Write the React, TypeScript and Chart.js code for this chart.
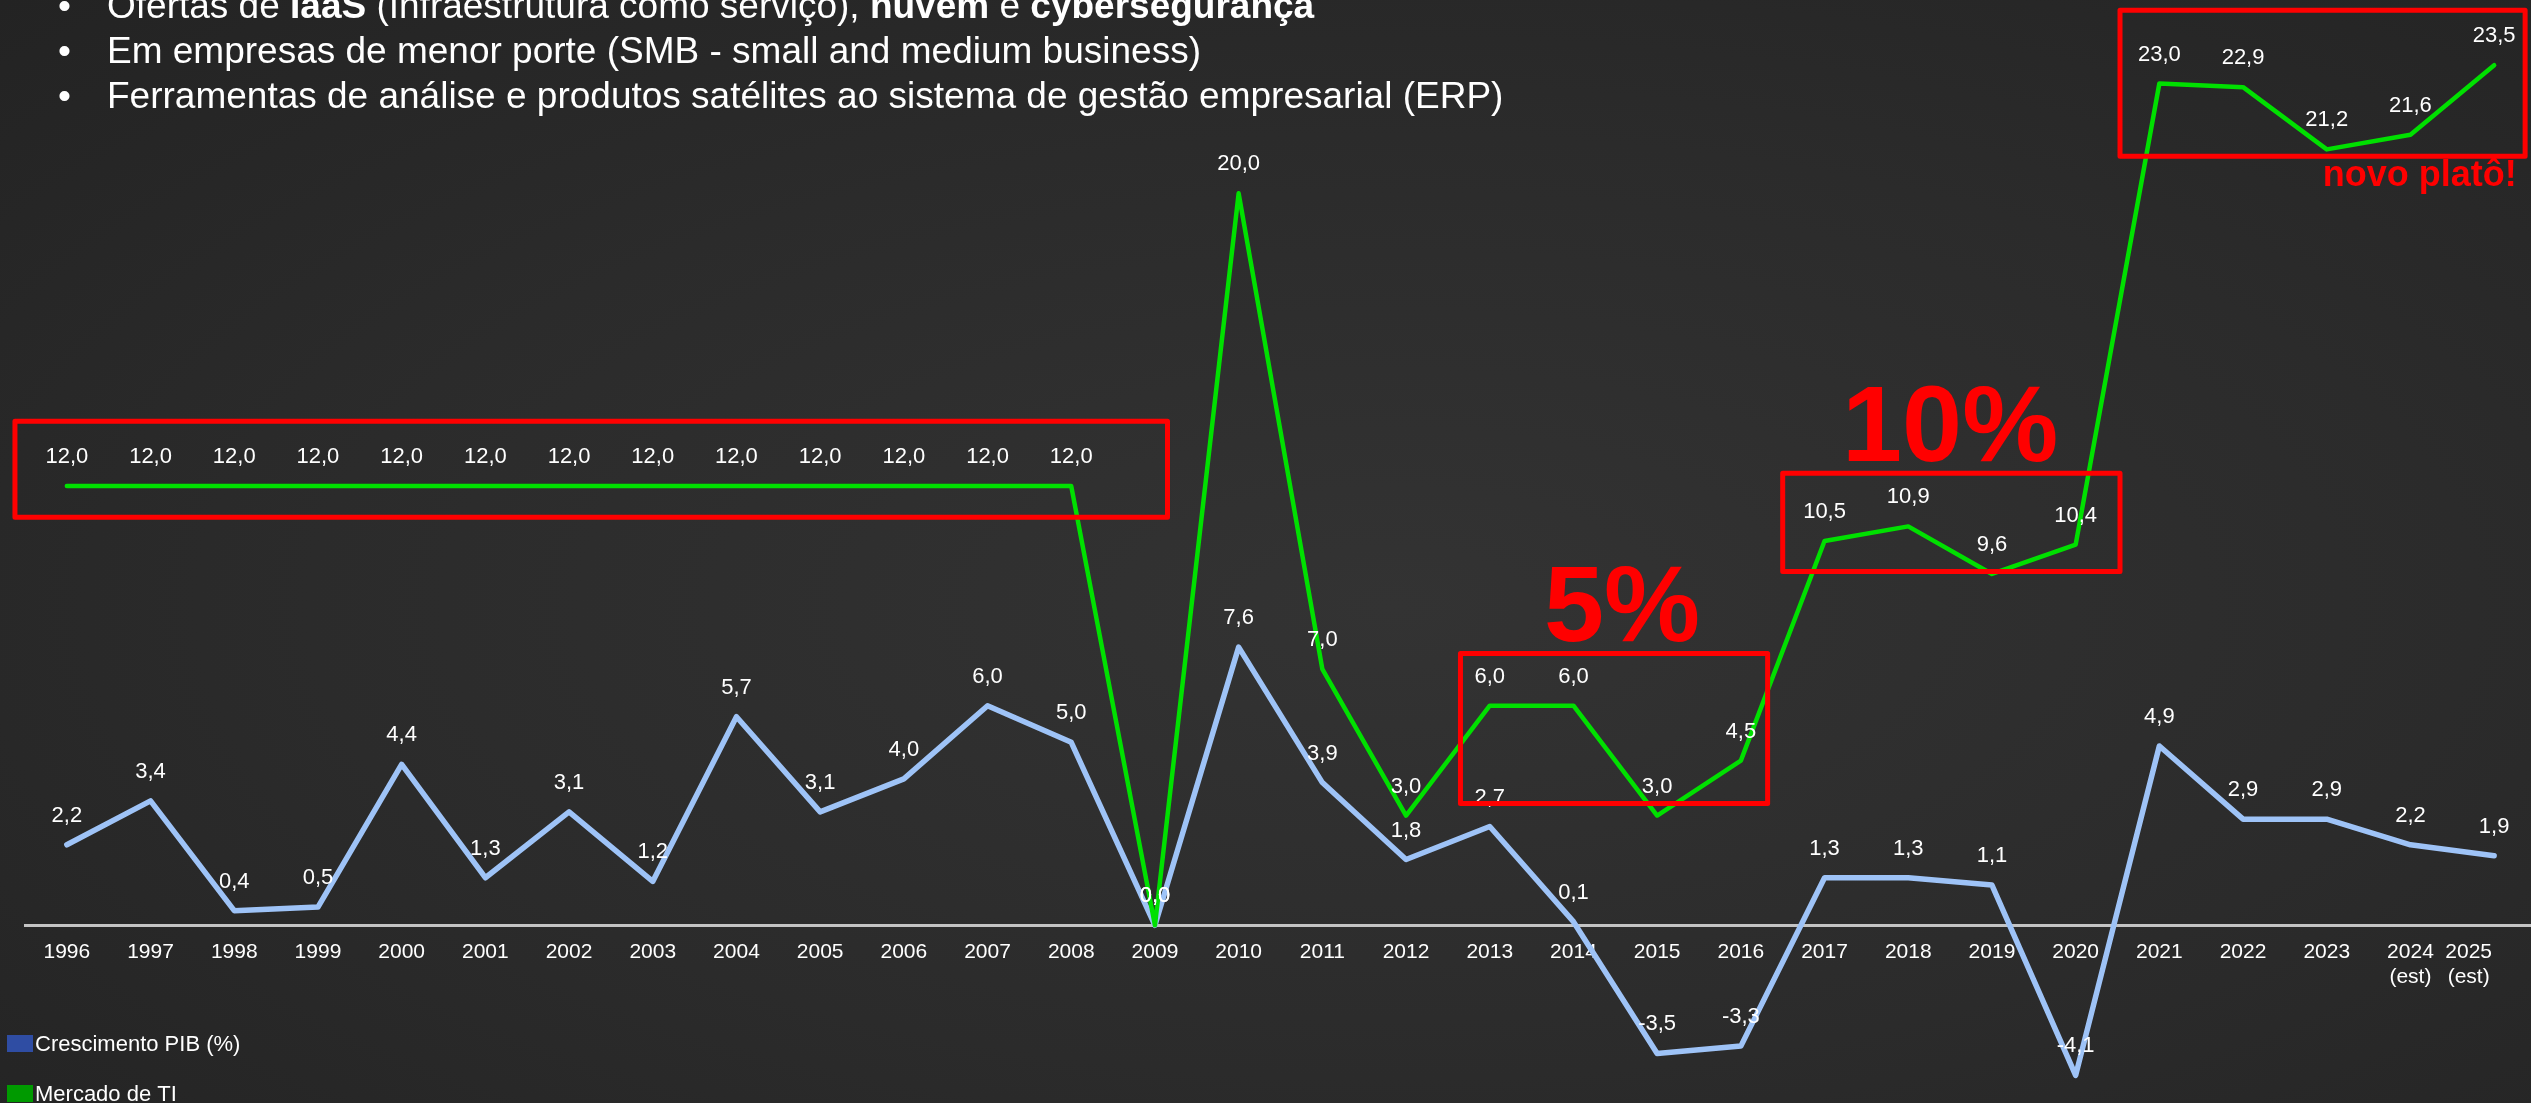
import React, { useEffect, useRef } from 'react';
import { Chart, registerables } from 'chart.js';

Chart.register(...registerables);

const FONT = '"Liberation Sans", Arial, Helvetica, sans-serif';

const YEARS: (string | string[])[] = [
  '1996', '1997', '1998', '1999', '2000', '2001', '2002', '2003', '2004', '2005',
  '2006', '2007', '2008', '2009', '2010', '2011', '2012', '2013', '2014', '2015',
  '2016', '2017', '2018', '2019', '2020', '2021', '2022', '2023',
  ['2024', '(est)'], ['2025', '(est)'],
];

const GDP_GROWTH = [
  2.2, 3.4, 0.4, 0.5, 4.4, 1.3, 3.1, 1.2, 5.7, 3.1,
  4.0, 6.0, 5.0, 0.0, 7.6, 3.9, 1.8, 2.7, 0.1, -3.5,
  -3.3, 1.3, 1.3, 1.1, -4.1, 4.9, 2.9, 2.9, 2.2, 1.9,
];

const IT_MARKET = [
  12.0, 12.0, 12.0, 12.0, 12.0, 12.0, 12.0, 12.0, 12.0, 12.0,
  12.0, 12.0, 12.0, 0.0, 20.0, 7.0, 3.0, 6.0, 6.0, 3.0,
  4.5, 10.5, 10.9, 9.6, 10.4, 23.0, 22.9, 21.2, 21.6, 23.5,
];

const SERIES_NAMES = ['Crescimento PIB (%)', 'Mercado de TI'];
const LINE_COLORS = ['#9ec3f7', '#00e000'];
const LEGEND_COLORS = ['#2f4da3', '#009a00'];

// highlight boxes in data space (category index / value)
const HIGHLIGHT_BOXES = [
  { x0: -0.62, x1: 13.15, y0: 11.15, y1: 13.77 },
  { x0: 16.65, x1: 20.32, y0: 3.33, y1: 7.43 },
  { x0: 20.5, x1: 24.53, y0: 9.67, y1: 12.35 },
  { x0: 24.53, x1: 29.37, y0: 21.01, y1: 25.0 },
];

const CALLOUTS = [
  { text: '5%', x: 18.58, y: 7.76, size: 108 },
  { text: '10%', x: 22.5, y: 12.7, size: 108 },
  { text: 'novo platô!', x: 28.11, y: 20.2, size: 36 },
];

const BULLETS: { t: string; b?: boolean }[][] = [
  [
    { t: 'Ofertas de ' }, { t: 'IaaS', b: true }, { t: ' (Infraestrutura como serviço), ' },
    { t: 'nuvem', b: true }, { t: ' e ' }, { t: 'cybersegurança', b: true },
  ],
  [{ t: 'Em empresas de menor porte (SMB - small and medium business)' }],
  [{ t: 'Ferramentas de análise e produtos satélites ao sistema de gestão empresarial (ERP)' }],
];

const LABEL_RIGHT_LIMIT = 2492;

const fmt = (v: number) => v.toFixed(1).replace('.', ',');

const overlayPlugin = {
  id: 'overlayPlugin',
  beforeDraw(chart: any) {
    // keep the last axis label inside the visible area (like the original)
    try {
      const xs = chart.scales.x;
      const items = xs.getLabelItems(chart.chartArea);
      const last = items[items.length - 1];
      if (last && last.options && last.options.translation) {
        const ctx = chart.ctx as CanvasRenderingContext2D;
        ctx.save();
        ctx.font = last.font.string;
        const lines = Array.isArray(last.label) ? last.label : [last.label];
        const w = Math.max(...lines.map((l: string) => ctx.measureText(l).width));
        ctx.restore();
        const tx = last.options.translation[0];
        last.options.translation[0] = Math.min(tx, LABEL_RIGHT_LIMIT - w / 2);
      }
    } catch (e) {
      /* ignore */
    }
  },
  afterDatasetsDraw(chart: any) {
    const ctx = chart.ctx as CanvasRenderingContext2D;
    const xs = chart.scales.x;
    const ys = chart.scales.y;
    ctx.save();
    // data labels
    ctx.font = `22px ${FONT}`;
    ctx.fillStyle = '#ffffff';
    ctx.textAlign = 'center';
    ctx.textBaseline = 'middle';
    chart.data.datasets.forEach((ds: any, di: number) => {
      const meta = chart.getDatasetMeta(di);
      meta.data.forEach((pt: any, i: number) => {
        ctx.fillText(fmt(ds.data[i]), pt.x, pt.y - 29);
      });
    });
    // boxes
    ctx.strokeStyle = '#ff0000';
    ctx.lineWidth = 5;
    ctx.lineJoin = 'round';
    HIGHLIGHT_BOXES.forEach((b) => {
      const x0 = xs.getPixelForValue(b.x0);
      const x1 = xs.getPixelForValue(b.x1);
      const y0 = ys.getPixelForValue(b.y1);
      const y1 = ys.getPixelForValue(b.y0);
      ctx.strokeRect(x0, y0, x1 - x0, y1 - y0);
    });
    // callouts
    ctx.fillStyle = '#ff0000';
    ctx.textBaseline = 'alphabetic';
    CALLOUTS.forEach((c) => {
      ctx.font = `bold ${c.size}px ${FONT}`;
      ctx.fillText(c.text, xs.getPixelForValue(c.x), ys.getPixelForValue(c.y));
    });
    ctx.restore();
  },
  afterDraw(chart: any) {
    const ctx = chart.ctx as CanvasRenderingContext2D;
    ctx.save();
    ctx.font = `22px ${FONT}`;
    ctx.textAlign = 'left';
    ctx.textBaseline = 'middle';
    chart.data.datasets.forEach((ds: any, i: number) => {
      const top = 1035 + i * 50;
      ctx.fillStyle = LEGEND_COLORS[i];
      ctx.fillRect(7, top, 26, 17);
      ctx.fillStyle = '#ffffff';
      ctx.fillText(ds.label, 35, top + 10);
    });
    ctx.restore();
  },
};

export default function App() {
  const canvasRef = useRef<HTMLCanvasElement | null>(null);

  useEffect(() => {
    document.body.style.margin = '0';
    const canvas = canvasRef.current;
    if (!canvas) return;
    const chart = new Chart(canvas, {
      type: 'line',
      data: {
        labels: YEARS as any,
        datasets: [
          {
            label: SERIES_NAMES[0],
            data: GDP_GROWTH,
            borderColor: LINE_COLORS[0],
            backgroundColor: LEGEND_COLORS[0],
            borderWidth: 5.5,
            pointRadius: 0,
            tension: 0,
            order: 1,
            borderJoinStyle: 'round',
            borderCapStyle: 'round',
          },
          {
            label: SERIES_NAMES[1],
            data: IT_MARKET,
            borderColor: LINE_COLORS[1],
            backgroundColor: LEGEND_COLORS[1],
            borderWidth: 4.5,
            pointRadius: 0,
            tension: 0,
            order: 0,
            borderJoinStyle: 'round',
            borderCapStyle: 'round',
          },
        ],
      },
      options: {
        responsive: false,
        animation: false,
        devicePixelRatio: 1,
        layout: { padding: { left: 25, right: 9, top: 3, bottom: 2 } },
        plugins: {
          legend: { display: false },
          tooltip: { enabled: false },
        },
        scales: {
          x: {
            type: 'category',
            offset: true,
            position: { y: 0 } as any,
            grid: { display: false, drawTicks: false },
            border: { display: true, color: '#c4c4c4', width: 3 },
            ticks: {
              color: '#ffffff',
              font: { size: 21, family: FONT },
              padding: 14,
              maxRotation: 0,
              autoSkip: false,
            },
            afterFit: (s: any) => {
              s.height = 0;
            },
          },
          y: {
            display: false,
            min: -4.8,
            max: 25.2,
          },
        },
      },
      plugins: [overlayPlugin],
    });
    return () => chart.destroy();
  }, []);

  return (
    <div
      style={{
        position: 'fixed',
        left: 0,
        top: 0,
        width: 2531,
        height: 1103,
        overflow: 'hidden',
        background:
          'radial-gradient(ellipse at 55% 55%, #333333 0%, #2b2b2b 55%, #232323 100%)',
      }}
    >
      <canvas
        ref={canvasRef}
        width={2545}
        height={1103}
        style={{ position: 'absolute', left: 0, top: 0, width: 2545, height: 1103 }}
      />
      <div
        style={{
          position: 'absolute',
          left: 0,
          top: -17,
          color: '#ffffff',
          fontFamily: FONT,
          fontSize: 37,
          lineHeight: '45px',
          whiteSpace: 'nowrap',
          pointerEvents: 'none',
        }}
      >
        {BULLETS.map((line, li) => (
          <div key={li} style={{ position: 'relative', height: 45 }}>
            <span style={{ position: 'absolute', left: 58 }}>•</span>
            <span style={{ position: 'absolute', left: 107 }}>
              {line.map((seg, si) => (
                <span key={si} style={{ fontWeight: seg.b ? 'bold' : 'normal' }}>
                  {seg.t}
                </span>
              ))}
            </span>
          </div>
        ))}
      </div>
    </div>
  );
}
